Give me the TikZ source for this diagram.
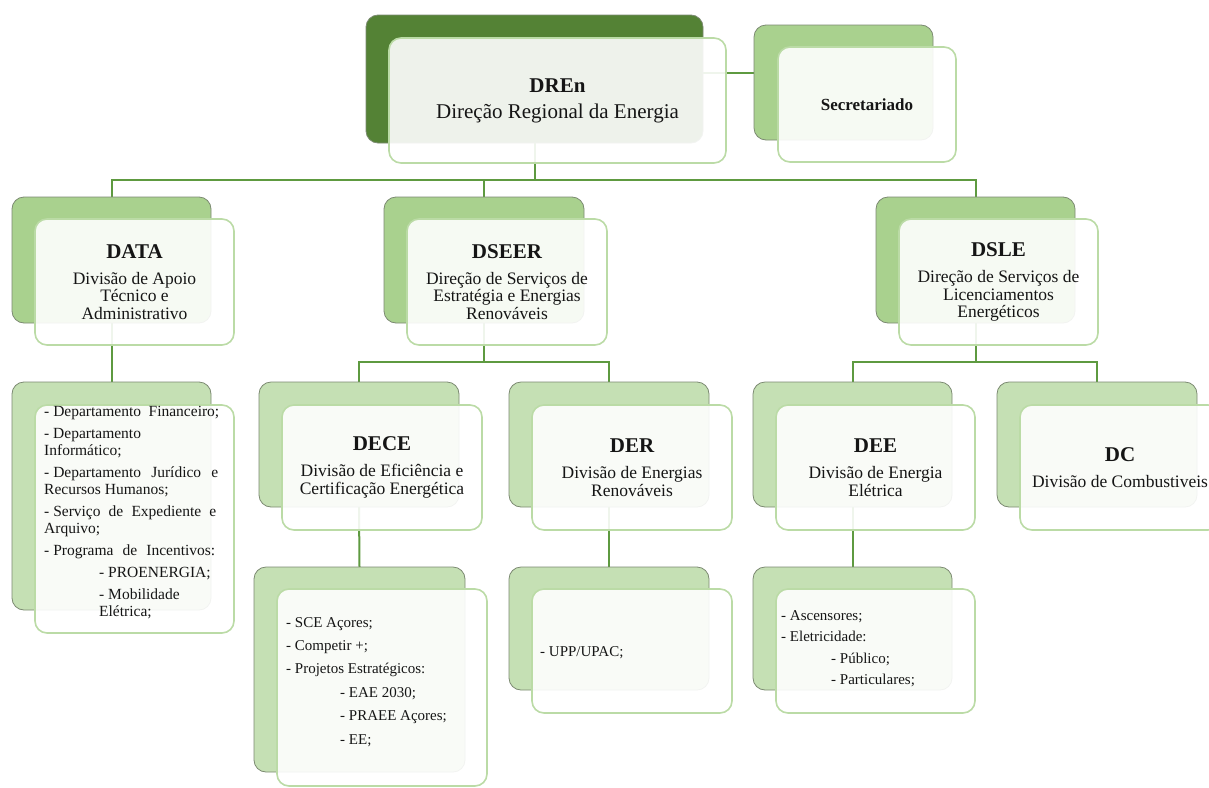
\documentclass[tikz,border=0pt]{standalone}
\usepackage{fontspec}
\setmainfont{Liberation Serif}
\pgfdeclarelayer{bottom}
\pgfdeclarelayer{bg}
\pgfsetlayers{bottom,bg,main}
\definecolor{dkg}{HTML}{548235}
\definecolor{mdg}{HTML}{A9D18E}
\definecolor{ltg}{HTML}{C5E0B4}
\definecolor{cline}{HTML}{5E9A40}
\definecolor{bbord}{HTML}{7C8A72}
\definecolor{fbord}{HTML}{BBDBA6}
\definecolor{txt}{HTML}{151515}
\tikzset{
  backcard/.style={draw=bbord, line width=0.8pt, rounded corners=12pt, anchor=north west, inner sep=0pt, outer sep=0pt},
  frontcard/.style={draw=fbord, line width=1.6pt, fill=white, fill opacity=0.9, text opacity=1, rounded corners=12pt,
    anchor=north west, inner sep=0pt, outer sep=0pt, align=center, text=txt, font=\fontsize{17.5}{17.5}\selectfont},
  conn/.style={draw=cline, line width=2pt},
  listtext/.style={anchor=north west, inner sep=0pt, align=left, text=txt, font=\fontsize{15}{17}\selectfont},
}
\newcommand\ttl[1]{{\fontsize{21}{21}\selectfont\bfseries #1}}
\newcommand\jline[2]{-\hspace{3.9pt}\makebox[#1][s]{#2}}
\begin{document}
\begin{tikzpicture}[x=1pt,y=-1pt]
\useasboundingbox (0,0) rectangle (1209,787);
\begin{pgfonlayer}{bottom}
\fill[white] (0,0) rectangle (1209,787);
\end{pgfonlayer}

% ---------- level 1
\node[backcard, fill=dkg, minimum width=337pt, minimum height=128pt] (dren-b) at (366,15) {};
\node[frontcard, minimum width=337pt, minimum height=125pt, font=\fontsize{21}{24}\selectfont] (dren) at (389,38)
  {\textbf{DREn}\\[2pt]Direção Regional da Energia};

\node[backcard, fill=mdg, minimum width=179pt, minimum height=115pt] (sec-b) at (754,25) {};
\node[frontcard, minimum width=178pt, minimum height=115pt] (sec) at (778,47)
  {{\fontsize{17}{17}\selectfont\bfseries Secretariado}};

% ---------- level 2
\node[backcard, fill=mdg, minimum width=199pt, minimum height=126pt] (data-b) at (12,197) {};
\node[frontcard, minimum width=199pt, minimum height=126pt] (data) at (35,219)
  {\ttl{DATA}\\[8.5pt]Divisão de Apoio\\Técnico e\\Administrativo};

\node[backcard, fill=mdg, minimum width=200pt, minimum height=126pt] (dseer-b) at (384,197) {};
\node[frontcard, minimum width=200pt, minimum height=126pt] (dseer) at (407,219)
  {\ttl{DSEER}\\[8.5pt]Direção de Serviços de\\Estratégia e Energias\\Renováveis};

\node[backcard, fill=mdg, minimum width=199pt, minimum height=126pt] (dsle-b) at (876,197) {};
\node[frontcard, minimum width=199pt, minimum height=126pt] (dsle) at (899,219)
  {\ttl{DSLE}\\[8.5pt]Direção de Serviços de\\Licenciamentos\\Energéticos};

% ---------- level 3
\node[backcard, fill=ltg, minimum width=199pt, minimum height=228pt] (datal-b) at (12,382) {};
\node[frontcard, minimum width=199pt, minimum height=228pt] (datal) at (35,405) {};
\node[listtext, font=\fontsize{15.5}{17}\selectfont] (datal-t) at (44,406.5) {%
\jline{166pt}{Departamento Financeiro;}\\[5pt]
- Departamento\\Informático;\\[5pt]
\jline{165pt}{Departamento Jurídico e}\\Recursos Humanos;\\[5pt]
\jline{163pt}{Serviço de Expediente e}\\Arquivo;\\[5pt]
\jline{162pt}{Programa de Incentivos:}\\[5pt]
\hspace*{55pt}- PROENERGIA;\\[5pt]
\hspace*{55pt}- Mobilidade\\
\hspace*{55pt}Elétrica;};

\node[backcard, fill=ltg, minimum width=200pt, minimum height=125pt] (dece-b) at (259,382) {};
\node[frontcard, minimum width=200pt, minimum height=125pt] (dece) at (282,405)
  {\ttl{DECE}\\[8.5pt]Divisão de Eficiência e\\Certificação Energética};

\node[backcard, fill=ltg, minimum width=200pt, minimum height=125pt] (der-b) at (509,382) {};
\node[frontcard, minimum width=200pt, minimum height=125pt] (der) at (532,405)
  {\ttl{DER}\\[8.5pt]Divisão de Energias\\Renováveis};

\node[backcard, fill=ltg, minimum width=199pt, minimum height=125pt] (dee-b) at (753,382) {};
\node[frontcard, minimum width=199pt, minimum height=125pt] (dee) at (776,405)
  {\ttl{DEE}\\[8.5pt]Divisão de Energia\\Elétrica};

\node[backcard, fill=ltg, minimum width=200pt, minimum height=125pt] (dc-b) at (997,382) {};
\node[frontcard, minimum width=200pt, minimum height=125pt] (dc) at (1020,405)
  {\ttl{DC}\\[8.5pt]Divisão de Combustiveis};

% ---------- level 4
\node[backcard, fill=ltg, minimum width=211pt, minimum height=205pt] (decel-b) at (254,567) {};
\node[frontcard, minimum width=210pt, minimum height=197pt] (decel) at (277,589) {};
\node[listtext] (decel-t) at (286,617) {%
- SCE Açores;\\[6.4pt]
- Competir +;\\[6.4pt]
- Projetos Estratégicos:\\[6.4pt]
\hspace*{54pt}- EAE 2030;\\[6.4pt]
\hspace*{54pt}- PRAEE Açores;\\[6.4pt]
\hspace*{54pt}- EE;};

\node[backcard, fill=ltg, minimum width=200pt, minimum height=123pt] (derl-b) at (509,567) {};
\node[frontcard, minimum width=200pt, minimum height=124pt] (derl) at (532,589) {};
\node[listtext] (derl-t) at (540,646) {- UPP/UPAC;};

\node[backcard, fill=ltg, minimum width=199pt, minimum height=123pt] (deel-b) at (753,567) {};
\node[frontcard, minimum width=199pt, minimum height=124pt] (deel) at (776,589) {};
\node[listtext] (deel-t) at (781,610) {%
- Ascensores;\\[4.5pt]
- Eletricidade:\\[4.5pt]
\hspace*{50pt}- Público;\\[4.5pt]
\hspace*{50pt}- Particulares;};

% ---------- connectors
\begin{pgfonlayer}{bg}
\coordinate (secy) at (0,73);
\coordinate (bus1) at (0,180);
\coordinate (bus2) at (0,362);
\draw[conn] (dren-b.east |- secy) -- (sec-b.west |- secy);
\draw[conn] (dren-b.south) -- (dren-b.south |- bus1);
\draw[conn] (data-b.north) -- (data-b.north |- bus1) -- (dsle-b.north |- bus1) -- (dsle-b.north);
\draw[conn] (dseer-b.north) -- (dseer-b.north |- bus1);
\draw[conn] (data-b.south) -- (datal-b.north);
\draw[conn] (dseer-b.south) -- (dseer-b.south |- bus2);
\draw[conn] (dece-b.north) -- (dece-b.north |- bus2) -- (der-b.north |- bus2) -- (der-b.north);
\draw[conn] (dsle-b.south) -- (dsle-b.south |- bus2);
\draw[conn] (dee-b.north) -- (dee-b.north |- bus2) -- (dc-b.north |- bus2) -- (dc-b.north);
\draw[conn] (dece-b.south) -- (decel-b.north);
\draw[conn] (der-b.south) -- (derl-b.north);
\draw[conn] (dee-b.south) -- (deel-b.north);
\end{pgfonlayer}
\end{tikzpicture}
\end{document}
